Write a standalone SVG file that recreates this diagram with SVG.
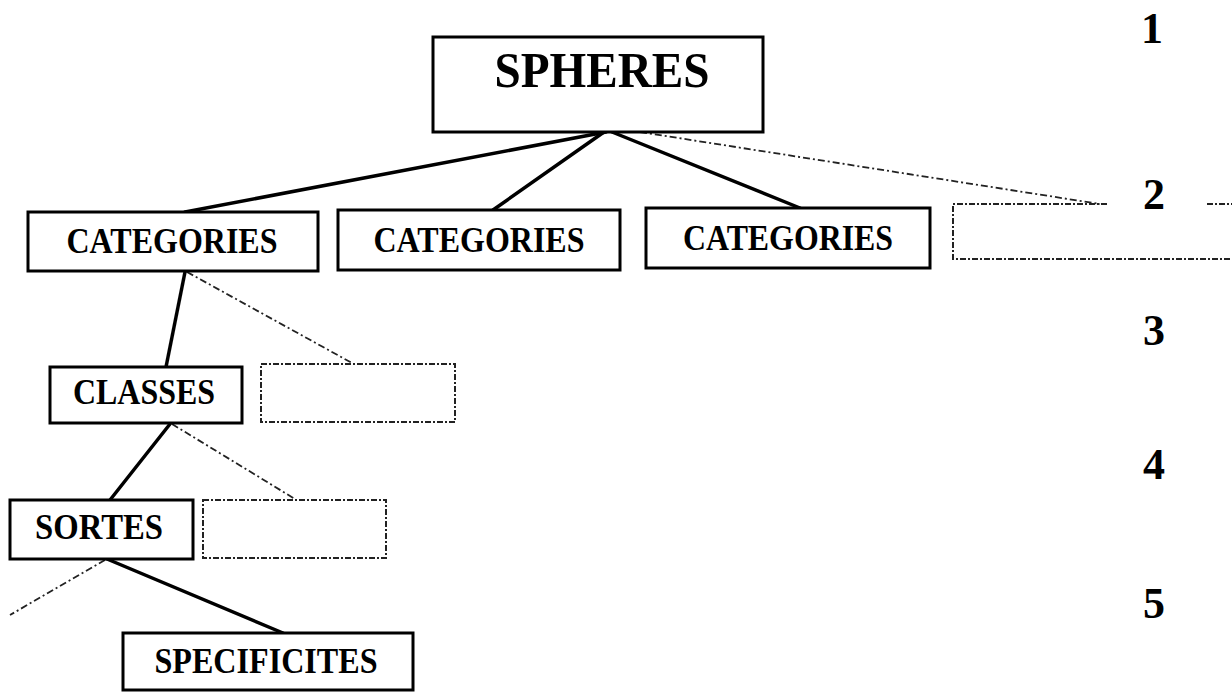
<svg xmlns="http://www.w3.org/2000/svg" width="1232" height="692" viewBox="0 0 1232 692">
<style>
.box{fill:#fff;stroke:#000;stroke-width:3}
.ghost{fill:none;stroke:#222;stroke-width:2;stroke-dasharray:6 2 2 2}
.lbl{font-family:"Liberation Serif","Times New Roman",serif;font-weight:bold;font-size:35px;fill:#000;text-anchor:middle}
.big{font-size:51px}
.num{font-family:"Liberation Serif","Times New Roman",serif;font-weight:bold;font-size:44px;fill:#000;text-anchor:middle}
.solid{stroke:#000;stroke-width:3.5;fill:none;stroke-linecap:round}
.dash{stroke:#222;stroke-width:1.8;fill:none;stroke-dasharray:7 3 2 3}
</style>
<rect width="1232" height="692" fill="#fff"/>
<g id="connectors">
<line class="solid" x1="606" y1="132" x2="185" y2="212"/>
<line class="solid" x1="604" y1="132" x2="493" y2="210"/>
<line class="solid" x1="612" y1="132" x2="800" y2="208"/>
<line class="dash" x1="640" y1="132" x2="1100" y2="204"/>
<line class="solid" x1="185" y1="272" x2="166" y2="367"/>
<line class="dash" x1="187" y1="272" x2="352" y2="363"/>
<line class="solid" x1="170" y1="424" x2="110" y2="500"/>
<line class="dash" x1="172" y1="424" x2="295" y2="499"/>
<line class="solid" x1="107" y1="559" x2="283" y2="633"/>
<line class="dash" x1="105" y1="560" x2="10" y2="615"/>
</g>
<g id="spheres">
<rect class="box" x="433" y="37" width="330" height="95"/>
<text class="lbl big" x="602" y="87" textLength="215" lengthAdjust="spacingAndGlyphs">SPHERES</text>
</g>
<g id="categories1">
<rect class="box" x="28" y="212" width="290" height="59"/>
<text class="lbl" x="172" y="253" textLength="211" lengthAdjust="spacingAndGlyphs">CATEGORIES</text>
</g>
<g id="categories2">
<rect class="box" x="338" y="210" width="282" height="60"/>
<text class="lbl" x="479" y="252" textLength="211" lengthAdjust="spacingAndGlyphs">CATEGORIES</text>
</g>
<g id="categories3">
<rect class="box" x="646" y="208" width="284" height="60"/>
<text class="lbl" x="788" y="250" textLength="210" lengthAdjust="spacingAndGlyphs">CATEGORIES</text>
</g>
<g id="empty-category">
<path class="ghost" d="M1107 204 H953 V259 H1234"/>
<path class="ghost" d="M1207 204 H1234"/>
</g>
<g id="classes">
<rect class="box" x="50" y="367" width="192" height="56"/>
<text class="lbl" x="144" y="404" textLength="142" lengthAdjust="spacingAndGlyphs">CLASSES</text>
</g>
<g id="empty-class">
<rect class="ghost" x="261" y="364" width="194" height="58"/>
</g>
<g id="sortes">
<rect class="box" x="10" y="500" width="183" height="59"/>
<text class="lbl" x="99" y="539" textLength="128" lengthAdjust="spacingAndGlyphs">SORTES</text>
</g>
<g id="empty-sorte">
<rect class="ghost" x="203" y="500" width="183" height="58"/>
</g>
<g id="specificites">
<rect class="box" x="123" y="633" width="290" height="57"/>
<text class="lbl" x="266" y="673" textLength="223" lengthAdjust="spacingAndGlyphs">SPECIFICITES</text>
</g>
<g id="levels">
<text class="num" x="1152" y="43">1</text>
<text class="num" x="1154" y="209">2</text>
<text class="num" x="1154" y="345">3</text>
<text class="num" x="1154" y="479">4</text>
<text class="num" x="1154" y="618">5</text>
</g>
</svg>
